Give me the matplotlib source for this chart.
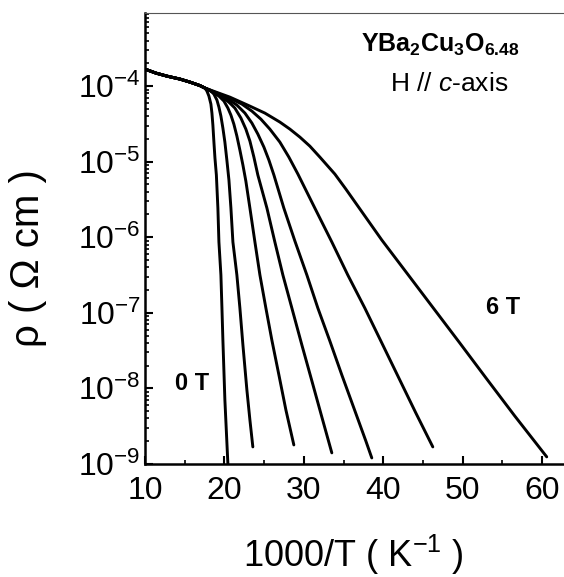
import numpy as np
import matplotlib
matplotlib.use('Agg')
import matplotlib.pyplot as plt
from matplotlib.ticker import LogLocator, MultipleLocator, FuncFormatter, NullFormatter

plt.rcParams['font.family'] = ['Liberation Sans', 'DejaVu Sans']
plt.rcParams['mathtext.fontset'] = 'custom'
plt.rcParams['mathtext.rm'] = 'Liberation Sans'
plt.rcParams['mathtext.it'] = 'Liberation Sans:italic'
plt.rcParams['mathtext.bf'] = 'Liberation Sans:bold'

# shared high-temperature part (1000/T, log10 rho)
x_common = [10.0, 11.38, 12.77, 14.40, 15.66, 16.92, 17.55]
lr_common = [-3.775, -3.828, -3.868, -3.907, -3.947, -3.993, -4.026]

# field curves, 0 T ... 6 T (1000/T, log10 rho)
x_0T = [17.80, 18.05, 18.30, 18.43, 18.55, 18.68, 18.81, 18.99, 19.18, 19.31, 19.56,
        19.69, 19.81, 20.06, 20.44, 20.52]
lr_0T = [-4.066, -4.132, -4.238, -4.357, -4.516, -4.741, -4.952, -5.177, -5.614, -6.063, -6.500,
         -6.937, -7.360, -8.153, -9.0, -9.1]

x_c2 = [18.18, 18.68, 19.06, 19.31, 19.56, 19.81, 20.06, 20.31, 20.57, 20.82, 21.07, 21.57,
        21.95, 22.33, 22.83, 23.21, 23.58]
lr_c2 = [-4.053, -4.106, -4.185, -4.278, -4.397, -4.556, -4.741, -4.979, -5.243, -5.614, -6.063, -6.500,
         -6.937, -7.426, -8.021, -8.418, -8.775]

x_c3 = [18.55, 19.31, 19.94, 20.44, 20.82, 21.19, 21.57, 21.95, 22.33, 22.70, 23.21, 23.84,
        24.47, 25.22, 25.97, 26.86, 27.74, 28.74]
lr_c3 = [-4.079, -4.132, -4.198, -4.291, -4.384, -4.503, -4.661, -4.847, -5.045, -5.257, -5.614, -6.063,
         -6.500, -6.937, -7.360, -7.823, -8.286, -8.749]

x_c4 = [18.80, 19.94, 20.69, 21.32, 22.08, 22.70, 23.21, 23.71, 24.21, 25.35, 26.35, 27.36,
        28.49, 29.75, 31.01, 32.26, 33.52]
lr_c4 = [-4.093, -4.159, -4.225, -4.291, -4.423, -4.569, -4.728, -4.939, -5.177, -5.614, -6.063, -6.500,
         -6.937, -7.426, -7.902, -8.378, -8.854]

x_c5 = [19.18, 20.44, 21.57, 22.58, 23.46, 24.21, 24.97, 25.60, 26.23, 27.48, 28.87, 30.38,
        31.76, 33.27, 34.78, 36.29, 37.80, 38.55]
lr_c5 = [-4.106, -4.172, -4.251, -4.357, -4.489, -4.635, -4.807, -4.979, -5.177, -5.614, -6.050, -6.500,
         -6.937, -7.373, -7.823, -8.259, -8.696, -8.921]

x_c6 = [19.69, 20.94, 22.20, 23.46, 24.59, 25.72, 26.98, 28.11, 29.25, 31.38, 33.52, 35.53,
        37.67, 39.81, 41.95, 44.09, 46.23]
lr_c6 = [-4.119, -4.172, -4.238, -4.331, -4.437, -4.569, -4.741, -4.939, -5.164, -5.614, -6.063, -6.500,
         -6.937, -7.399, -7.862, -8.325, -8.775]

x_6T = [20.69, 23.21, 25.09, 26.98, 28.24, 29.50, 30.75, 32.01, 33.90, 35.28, 36.79, 38.30,
        39.81, 42.96, 46.48, 49.62, 53.02, 56.54, 60.57]
lr_6T = [-4.146, -4.265, -4.357, -4.476, -4.569, -4.675, -4.794, -4.939, -5.164, -5.362, -5.587, -5.812,
         -6.037, -6.474, -6.963, -7.399, -7.876, -8.365, -8.907]

curves_x = [x_0T, x_c2, x_c3, x_c4, x_c5, x_c6, x_6T]
curves_lr = [lr_0T, lr_c2, lr_c3, lr_c4, lr_c5, lr_c6, lr_6T]

xticks = [10, 20, 30, 40, 50, 60]

fig = plt.figure(figsize=(5.64, 5.77), dpi=100)
ax = fig.add_axes([0.257, 0.196, 0.741, 0.781])

for xs, ls in zip(curves_x, curves_lr):
    xx = np.array(x_common + xs)
    yy = 10 ** np.array(lr_common + ls)
    ax.plot(xx, yy, color='black', lw=2.1, solid_joinstyle='round', solid_capstyle='round')

ax.set_yscale('log')
ax.set_xlim(10, 62.6)
ax.set_ylim(1e-9, 9.2e-4)

ax.set_xticks(xticks)
ax.xaxis.set_minor_locator(MultipleLocator(5))
ax.yaxis.set_major_locator(LogLocator(base=10, numticks=20))
ax.yaxis.set_minor_locator(LogLocator(base=10, subs=np.arange(2, 10), numticks=20))
ax.yaxis.set_minor_formatter(NullFormatter())
ax.yaxis.set_major_formatter(FuncFormatter(lambda v, p: r'$\mathregular{10^{%d}}$' % int(round(np.log10(v)))))

ax.tick_params(axis='both', which='major', direction='in', length=6, width=1.5)
ax.tick_params(axis='both', which='minor', direction='in', length=3, width=1.2)
ax.tick_params(axis='x', which='major', pad=9, labelsize=23)
ax.tick_params(axis='y', which='major', pad=3, labelsize=23)
ax.tick_params(top=False, right=False, which='both')

ax.spines['right'].set_visible(False)
ax.spines['top'].set_linewidth(0.8)
ax.spines['top'].set_color('#555555')
ax.spines['left'].set_linewidth(1.8)
ax.spines['bottom'].set_linewidth(1.8)

ax.set_xlabel(r'1000/T ( K$^{\mathregular{-1}}$ )', fontsize=26, va='center')
ax.xaxis.set_label_coords(0.498, -0.202)
ax.set_ylabel('ρ ( Ω cm )', fontsize=29, va='center')
ax.yaxis.set_label_coords(-0.28, 0.457)

ax.text(0.706, 0.93, r'$\mathbf{YBa_2Cu_3O_{6.48}}$', transform=ax.transAxes,
        fontsize=18, ha='center', va='center')
ax.text(0.728, 0.842, r'H // $\mathit{c}$-axis', transform=ax.transAxes,
        fontsize=19, ha='center', va='center')
ax.text(0.113, 0.178, '0 T', transform=ax.transAxes, fontsize=17,
        fontweight='bold', ha='center', va='center')
ax.text(0.856, 0.348, '6 T', transform=ax.transAxes, fontsize=17,
        fontweight='bold', ha='center', va='center')

fig.savefig('out.png', dpi=100)
